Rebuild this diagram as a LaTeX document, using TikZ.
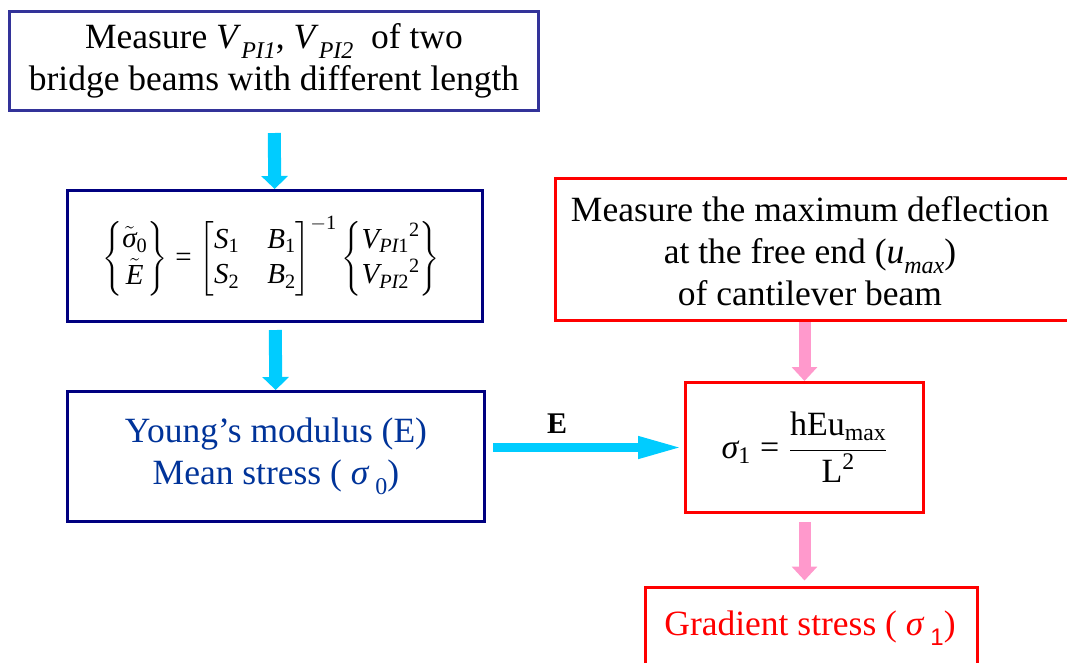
\RequirePackage{fix-cm}
\documentclass[tikz,border=0pt]{standalone}
\usepackage{fontspec}
\setmainfont{Liberation Serif}
\setsansfont{Liberation Sans}
\usepackage{amsmath}
\usetikzlibrary{arrows.meta}
\definecolor{cyanA}{HTML}{00CCFF}
\definecolor{pinkA}{HTML}{FF99CC}
\definecolor{indigoA}{HTML}{333399}
\definecolor{navyA}{HTML}{000080}
\definecolor{blueT}{HTML}{003399}
\definecolor{redA}{HTML}{FF0000}
\newcommand{\lowsub}[1]{\raisebox{-0.28em}{\fontsize{24}{24}\selectfont #1}}
\newcommand{\mi}[1]{\textit{#1}}
\newcommand{\mr}[1]{\textrm{#1}}
\newcommand{\meq}{\mathrel{\textrm{=}}}
\begin{document}
\begin{tikzpicture}[x=1pt,y=-1pt,
  box/.style={draw, line width=3pt, inner sep=0pt},
  bigtxt/.style={font=\fontsize{35.5}{42}\selectfont, align=center, inner sep=0pt},
  cyanarrow/.style={draw=cyanA, line width=13pt, -{Triangle[length=13pt,width=26pt]}},
  cyanthin/.style={draw=cyanA, line width=9.5pt, -{Triangle[length=46pt,width=20pt]}},
  pinkarrow/.style={draw=pinkA, line width=12pt, -{Triangle[length=14pt,width=25pt]}}]
\useasboundingbox (0,0) rectangle (1067,662);

% boxes
\node[box, draw=indigoA, minimum width=529pt, minimum height=99pt, bigtxt] (b1) at (274,61)
  {Measure \mi{V}\lowsub{\itshape PI1}, \mi{V}\lowsub{\itshape PI2}\ \ of two\\bridge beams with different length};

\node[box, draw=navyA, minimum width=415pt, minimum height=131pt] (b2) at (275,256) {};
\node[inner sep=0pt] (b2t) at (271,256)
  {\fontsize{29}{33}\selectfont\renewcommand\arraystretch{1.08}\setlength\arraycolsep{14pt}%
   $\left\{\begin{matrix}\tilde{\mi{σ}}_{\mr{0}}\\ \tilde{\mi{E}}\end{matrix}\right\}
   \meq \begin{bmatrix}\mi{S}_{\mr{1}} & \mi{B}_{\mr{1}}\\ \mi{S}_{\mr{2}} & \mi{B}_{\mr{2}}\end{bmatrix}^{-\mr{1}}
   \left\{\begin{matrix}{\mi{V}_{\mi{PI}\mr{1}}}^{\mr{2}}\\ {\mi{V}_{\mi{PI}\mr{2}}}^{\mr{2}}\end{matrix}\right\}$};

\node[box, draw=navyA, minimum width=417pt, minimum height=130pt, bigtxt, text=blueT] (b3) at (276,456.5)
  {Young’s modulus (E)\\Mean stress ( \mi{σ}\,\lowsub{0})};

\node[box, draw=redA, minimum width=540pt, minimum height=142pt] (b4) at (825,249.5) {};
\node[bigtxt] (b4t) at (810,251)
  {Measure the maximum deflection\\at the free end (\mi{u}\lowsub{\itshape max})\\of cantilever beam};

\node[box, draw=redA, minimum width=238pt, minimum height=130pt] (b5) at (804.5,447.5)
  {\fontsize{34}{40}\selectfont
   $\mi{σ}_{\mr{1}} \meq \dfrac{\mr{hEu}_{\mr{max}}}{\mr{L}^{\mr{2}}}$};

\node[box, draw=redA, minimum width=332pt, minimum height=100pt, anchor=north] (b6) at (811.5,585.5) {};
\node[bigtxt, text=redA] (b6t) at (810,628)
  {Gradient stress ( \mi{σ}\,\raisebox{-0.28em}{\fontsize{24}{24}\selectfont\sffamily 1})};

% connectors
\draw[cyanarrow, shorten <=21pt] (b1) -- (b2);
\draw[cyanarrow, shorten <=7pt] (b2) -- (b3);
\draw[cyanthin, shorten <=7pt] (b3.east |- b5.west) -- (b5.west);
\node[font=\fontsize{30}{30}\selectfont\bfseries, inner sep=0pt] (elab) at (557,424) {E};
\draw[pinkarrow] (b4.south -| b5.north) -- (b5.north);
\draw[pinkarrow, shorten <=8pt, shorten >=5pt] (b5.south) -- (b5.south |- b6.north);
\end{tikzpicture}
\end{document}
